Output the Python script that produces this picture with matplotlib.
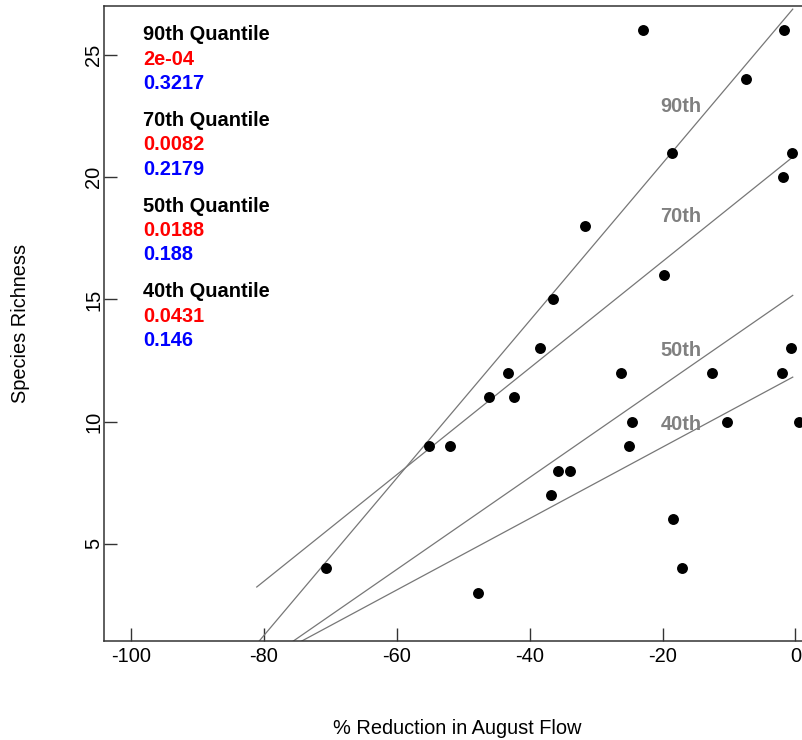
import matplotlib
matplotlib.use("Agg")
import matplotlib.pyplot as plt
import numpy as np

plt.rcParams['font.family'] = ['Liberation Sans', 'DejaVu Sans']

# Data
flow_reduction = [-70.7, -55.1, -52.0, -47.8, -46.2, -43.3, -42.4, -38.4, -36.5, -36.8,
                  -35.7, -33.9, -31.7, -26.3, -24.6, -25.0, -23.0, -19.8, -18.6, -18.4,
                  -17.1, -12.5, -10.3, -7.45, -1.7, -1.9, -2.0, -0.7, -0.5, 0.5]
richness = [4, 9, 9, 3, 11, 12, 11, 13, 15, 7,
            8, 8, 18, 12, 10, 9, 26, 16, 21, 6,
            4, 12, 10, 24, 26, 20, 12, 13, 21, 10]

quantiles = ["90th", "70th", "50th", "40th"]
p_values = ["2e-04", "0.0082", "0.0188", "0.0431"]
slopes = [0.3217, 0.2179, 0.188, 0.146]
slope_labels = ["0.3217", "0.2179", "0.188", "0.146"]
intercepts = [27.0, 20.91, 15.24, 11.88]
line_x_range = [-81.1, -0.4]
quantile_label_y = [22.9, 18.4, 12.9, 9.9]
annot_group_y = [25.82, 22.32, 18.82, 15.32]

W, H = 802, 740
fig = plt.figure(figsize=(W / 100, H / 100), dpi=100)
left, right, top, bottom = 104, 810, 6, 641
ax = fig.add_axes([left / W, 1 - bottom / H, (right - left) / W, (bottom - top) / H])

ax.set_xlim(-104.1, 2.2)
ax.set_ylim(1.03, 27.0)

fs = 14.4
line_col = '#777777'

xs = np.array(line_x_range)
for q, b, a, ly in zip(quantiles, slopes, intercepts, quantile_label_y):
    ax.plot(xs, a + b * xs, color=line_col, lw=0.9, zorder=2)
    ax.text(-17.2, ly, q, color='#808080', fontsize=fs, fontweight='bold',
            ha='center', va='center', zorder=3)

ax.scatter(flow_reduction, richness, s=62, color='black', zorder=4, linewidths=0)

for q, p, sl, gy in zip(quantiles, p_values, slope_labels, annot_group_y):
    ax.text(-98.2, gy, f"{q} Quantile", color='black', fontsize=fs, fontweight='bold',
            ha='left', va='center')
    ax.text(-98.2, gy - 1.0, p, color='#ff0000', fontsize=fs, fontweight='bold',
            ha='left', va='center')
    ax.text(-98.2, gy - 2.0, sl, color='#0000ff', fontsize=fs, fontweight='bold',
            ha='left', va='center')

ax.set_xticks([-100, -80, -60, -40, -20, 0])
ax.set_xticklabels(["-100", "-80", "-60", "-40", "-20", "0"])
ax.set_yticks([5, 10, 15, 20, 25])
ax.tick_params(axis='both', direction='in', length=9.5, width=1.0, labelsize=fs,
               color='#333333')
ax.tick_params(axis='x', pad=4)
ax.tick_params(axis='y', pad=0.5, labelrotation=90)
for lbl in ax.get_yticklabels():
    lbl.set_va('center')

for side in ['left', 'bottom', 'top']:
    ax.spines[side].set_linewidth(1.1)
    ax.spines[side].set_color('#333333')
ax.spines['right'].set_visible(False)

fig.text(457 / W, 1 - 728 / H, "% Reduction in August Flow", fontsize=fs,
         ha='center', va='center')
fig.text(21 / W, 1 - 323 / H, "Species Richness", fontsize=fs, rotation=90,
         ha='center', va='center')

fig.savefig("out.png", dpi=100)
